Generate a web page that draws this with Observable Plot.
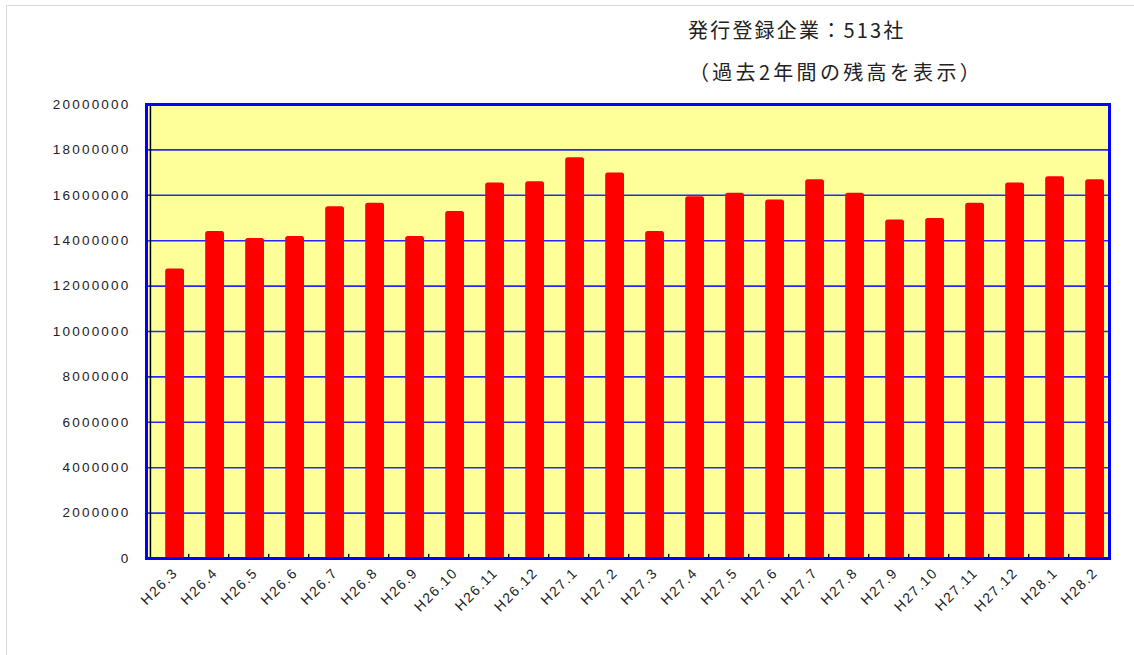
<!DOCTYPE html>
<html>
<head>
<meta charset="utf-8">
<script src="https://cdn.jsdelivr.net/npm/d3@7"></script>
<script src="https://cdn.jsdelivr.net/npm/@observablehq/plot@0.6"></script>
<style>
  html, body { margin: 0; padding: 0; background: #fff; }
  #wrap { position: relative; width: 1134px; height: 655px; overflow: hidden; }
  #border { position: absolute; left: 6px; top: 5px; width: 1140px; height: 700px; border-left: 1.5px solid #d8d8d8; border-top: 1.5px solid #d8d8d8; }
  .ttl { position: absolute; font-family: "Noto Sans CJK JP", sans-serif; color: #222; white-space: nowrap; line-height: 28px; }
  #t1 { left: 688px; top: 16px; font-size: 20px; letter-spacing: 2.2px; }
  #t2 { left: 689px; top: 58px; font-size: 20px; letter-spacing: 3.3px; }
  #chart { position: absolute; left: 0; top: 90px; }
  #chart svg text.ylab { letter-spacing: 2.2px; }
  #chart svg text.xlab { letter-spacing: 1.6px; }
</style>
</head>
<body>
<div id="wrap">
  <div id="border"></div>
  <div class="ttl" id="t1">発行登録企業：513社</div>
  <div class="ttl" id="t2">（過去2年間の残高を表示）</div>
  <div id="chart"></div>
</div>
<script>
const months = ["H26.3","H26.4","H26.5","H26.6","H26.7","H26.8","H26.9","H26.10","H26.11","H26.12",
  "H27.1","H27.2","H27.3","H27.4","H27.5","H27.6","H27.7","H27.8","H27.9","H27.10","H27.11","H27.12",
  "H28.1","H28.2"];
const balances = [12750000,14400000,14100000,14180000,15500000,15650000,14180000,15290000,16540000,16600000,
  17650000,16980000,14400000,15940000,16090000,15790000,16680000,16090000,14910000,14980000,15650000,16540000,
  16820000,16680000];
const yTicks = [0,2000000,4000000,6000000,8000000,10000000,12000000,14000000,16000000,18000000,20000000];

const data = months.map((m, i) => ({month: m, value: balances[i]}));

const W = 1134, H = 565;
const mL = 146, mR = 25, mT = 14, mB = 97;
const bw = (W - mL - mR) / months.length;

const chart = Plot.plot({
  width: W,
  height: H,
  marginLeft: mL,
  marginRight: mR,
  marginTop: mT,
  marginBottom: mB,
  style: {fontFamily: "'Liberation Sans', Arial, sans-serif", fontSize: "13px", color: "#222", background: "transparent"},
  x: {type: "band", domain: months, padding: 0},
  y: {domain: [0, 20000000]},
  marks: [
    Plot.frame({fill: "#ffff99", stroke: "none"}),
    Plot.gridY(yTicks.slice(1, -1), {stroke: "#2626ff", strokeOpacity: 1, strokeWidth: 1.6}),
    Plot.barY(data, {x: "month", y: "value", fill: "#ff0000", insetLeft: 17.2, insetRight: 4, rx: 2.5}),
    Plot.barY(months.slice(1), {x: d => d, y1: 0, y2: 180000, fill: "#000", insetLeft: 0, insetRight: bw - 1.5}),
    Plot.ruleY([0], {stroke: "#000", strokeWidth: 2.5}),
    Plot.ruleX([months[0]], {y1: 0, y2: 20000000, stroke: "#000", strokeWidth: 1.5, dx: -bw / 2 + 2}),
    Plot.frame({stroke: "#0000ff", strokeWidth: 3}),
    Plot.axisY(yTicks, {tickSize: 0, tickPadding: 16, tickFormat: d => String(d), fontSize: 13.5, label: null}),
    Plot.axisX(months, {tickSize: 0, tickPadding: 12, tickRotate: -45, textAnchor: "end", dx: 7, fontSize: 14, label: null, fill: "#222"})
  ]
});
chart.querySelectorAll("g[aria-label='y-axis tick label'] text").forEach(t => t.setAttribute("class", "ylab"));
chart.querySelectorAll("g[aria-label='x-axis tick label'] text").forEach(t => t.setAttribute("class", "xlab"));
document.getElementById("chart").appendChild(chart);
</script>
</body>
</html>
